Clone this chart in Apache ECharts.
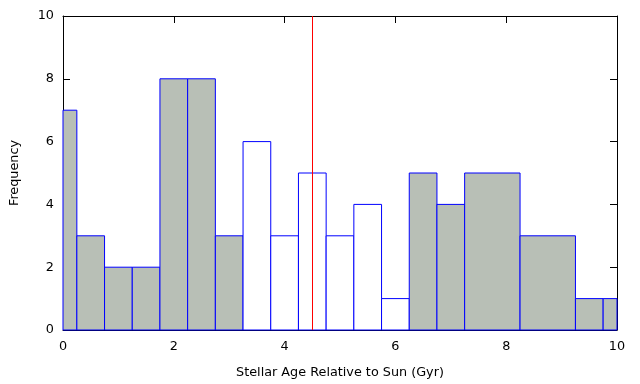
<!DOCTYPE html>
<html>
<head>
<meta charset="utf-8">
<script src="https://cdn.jsdelivr.net/npm/echarts@6/dist/echarts.min.js"></script>
<style>
  html, body { margin: 0; padding: 0; background: #fff; }
  #chart { width: 640px; height: 384px; }
</style>
</head>
<body>
<div id="chart"></div>
<script>
// bins: centre (Gyr), width, count, filled (1) or open (0)
const binCenters = [0,   0.5, 1,   1.5, 2,   2.5, 3,   3.5, 4,   4.5, 5,   5.5, 6,   6.5, 7,   7.75, 8.75, 9.5, 10];
const binWidths  = [0.5, 0.5, 0.5, 0.5, 0.5, 0.5, 0.5, 0.5, 0.5, 0.5, 0.5, 0.5, 0.5, 0.5, 0.5, 1,    1,    0.5, 0.5];
const counts     = [7,   3,   2,   2,   8,   8,   3,   6,   3,   5,   3,   4,   1,   5,   4,   5,    3,    1,   1];
const filled     = [1,   1,   1,   1,   1,   1,   1,   0,   0,   0,   0,   0,   0,   1,   1,   1,    1,    1,   1];
const sunAge = 4.5;

const FONT = 'DejaVu Sans';
const FS = 12.8;
const chart = echarts.init(document.getElementById('chart'));

const histData = binCenters.map((c, i) => [c, counts[i], binWidths[i], filled[i]]);

function renderBin(params, api) {
  const c = api.value(0);
  const v = api.value(1);
  const w = api.value(2);
  const p0 = api.coord([c - w / 2, v]);
  const p1 = api.coord([c + w / 2, 0]);
  const rect = echarts.graphic.clipRectByRect({
    x: p0[0], y: p0[1], width: p1[0] - p0[0], height: p1[1] - p0[1]
  }, {
    x: params.coordSys.x, y: params.coordSys.y,
    width: params.coordSys.width, height: params.coordSys.height
  });
  if (!rect) return;
  return {
    type: 'rect',
    shape: rect,
    style: {
      fill: api.value(3) ? '#b8bfb6' : '#ffffff',
      stroke: '#0000ff',
      lineWidth: 1
    }
  };
}

const tickStyle = { show: true, inside: true, length: 7, lineStyle: { color: '#000' } };
const lineStyle = { show: true, onZero: false, lineStyle: { color: '#000' } };

chart.setOption({
  animation: false,
  grid: { left: 62, right: 23, top: 16, bottom: 54, show: false },
  xAxis: [{
    type: 'value', min: 0, max: 10, interval: 2,
    name: 'Stellar Age Relative to Sun (Gyr)',
    nameLocation: 'middle', nameGap: 36,
    nameTextStyle: { fontFamily: FONT, fontSize: FS, color: '#000' },
    axisLine: lineStyle,
    axisTick: tickStyle,
    axisLabel: { fontFamily: FONT, fontSize: FS, color: '#000', margin: 10 },
    splitLine: { show: false }
  }, {
    type: 'value', min: 0, max: 10, interval: 2, position: 'top',
    axisLine: lineStyle,
    axisTick: tickStyle,
    axisLabel: { show: false },
    splitLine: { show: false }
  }],
  yAxis: [{
    type: 'value', min: 0, max: 10, interval: 2,
    name: 'Frequency',
    nameLocation: 'middle', nameGap: 42,
    nameTextStyle: { fontFamily: FONT, fontSize: FS, color: '#000' },
    axisLine: lineStyle,
    axisTick: tickStyle,
    axisLabel: { fontFamily: FONT, fontSize: FS, color: '#000', margin: 9 },
    splitLine: { show: false }
  }, {
    type: 'value', min: 0, max: 10, interval: 2, position: 'right',
    axisLine: lineStyle,
    axisTick: tickStyle,
    axisLabel: { show: false },
    splitLine: { show: false }
  }],
  series: [{
    type: 'custom',
    renderItem: renderBin,
    data: histData,
    encode: { x: 0, y: 1 },
    markLine: {
      silent: true,
      symbol: 'none',
      label: { show: false },
      lineStyle: { color: '#ff0000', width: 1, type: 'solid' },
      data: [{ xAxis: sunAge }]
    }
  }]
});
</script>
</body>
</html>
